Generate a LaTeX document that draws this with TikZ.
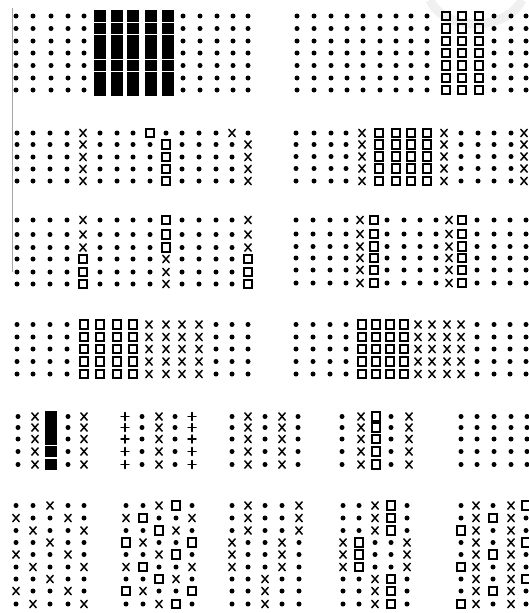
\documentclass[tikz,border=0pt]{standalone}
\usepackage{tikz}

% symbols of the dot patterns, centred at (#1,#2)
\newcommand{\symd}[2]{\fill (#1,#2) circle (2.5pt);}
\newcommand{\symx}[2]{\draw[mk] (#1,#2) ++(-3.2pt,-3.7pt) -- ++(6.4pt,7.4pt) (#1,#2) ++(-3.2pt,3.7pt) -- ++(6.4pt,-7.4pt);}
\newcommand{\syms}[2]{\draw[mk,line width=1.8pt] (#1,#2) ++(-4.3pt,-4.3pt) rectangle ++(8.6pt,8.6pt);}
\newcommand{\symf}[2]{\fill (#1,#2) ++(-6.2pt,-5.6pt) rectangle ++(12.4pt,11.2pt);}
\newcommand{\symp}[2]{\draw[mk] (#1,#2) ++(-4pt,0) -- ++(8pt,0) (#1,#2) ++(0,-4pt) -- ++(0,8pt);}
% one row: column array, y, symbols
\newcommand{\prow}[3]{%
  \foreach \s [count=\i from 0] in {#3}{%
    \pgfmathsetmacro{\xx}{{#1}[\i]}%
    \csname sym\s\endcsname{\xx}{#2}}}

\begin{document}
\begin{tikzpicture}[x=1pt, y=-1pt, mk/.style={line width=1.5pt, line cap=round}]
  \useasboundingbox[fill=white] (0,0) rectangle (528,613);
  % scan edge and watermark
  \draw[gray!70, line width=0.8pt] (12,8) -- (12,272);
  \draw[gray!12, line width=9pt] (430,0) .. controls (445,32) and (505,32) .. (522,0);

  % row 1
  \foreach \y in {16,28.5,41,53,65.5,78,90}
    \prow{16,33,51,68,84,100,117,133,151,168,183,200,217,233,248}{\y}{d,d,d,d,d,f,f,f,f,f,d,d,d,d,d};
  \foreach \y in {16,28.5,41,53,65.5,78,90}
    \prow{297,314,331,347,363,380,396,411,427,446,462,479,494,511,526}{\y}{d,d,d,d,d,d,d,d,d,s,s,s,d,d,d};

  % row 2
  \prow{17,33,50,67,83,100,117,133,150,166,182,199,216,232,248}{133}{d,d,d,d,x,d,d,d,s,d,d,d,d,x,d};
  \foreach \y in {144.5,157,169,181}
    \prow{17,33,50,67,83,100,117,133,150,166,182,199,216,232,248}{\y}{d,d,d,d,x,d,d,d,d,s,d,d,d,d,x};
  \foreach \y in {133,144.5,156.5,168.5,181}
    \prow{296,314,331,346,362,379,396,411,427,444,461,478,494,511,524}{\y}{d,d,d,d,x,s,s,s,s,x,d,d,d,d,x};

  % row 3
  \foreach \y in {220,234.5,247.5}
    \prow{17,33,50,67,83,100,117,133,150,166,182,199,216,232,248}{\y}{d,d,d,d,x,d,d,d,d,s,d,d,d,d,x};
  \foreach \y in {259,272,284}
    \prow{17,33,50,67,83,100,117,133,150,166,182,199,216,232,248}{\y}{d,d,d,d,s,d,d,d,d,x,d,d,d,d,s};
  \foreach \y in {220,234,246.5,258,270,283}
    \prow{296,313,330,346,360,374,387,404,420,436,449,462,477,494,510,526}{\y}{d,d,d,d,x,s,d,d,d,d,x,s,d,d,d,d};

  % row 4
  \foreach \y in {324.5,337,349,361.5,374}
    \prow{17,33,50,67,84,100,117,133,149,166,182,199,216,232,248}{\y}{d,d,d,d,s,s,s,s,x,x,x,x,d,d,d};
  \foreach \y in {324.5,337,349,361.5,374}
    \prow{296,313,330,346,362,376,390,404,418,432,447,461,477,494,510,526}{\y}{d,d,d,d,s,s,s,s,x,x,x,x,d,d,d,d};

  % row 5
  \foreach \y in {416.5,427.5,439,451.5,464.5}{
    \prow{18,35,51,68,84}{\y}{d,x,f,d,x}
    \prow{125,142,159,175,192}{\y}{p,d,x,d,p}
    \prow{232,248,265,282,298}{\y}{d,x,d,x,d}
    \prow{342,361,376,391,409}{\y}{d,x,s,d,x}
    \prow{461,477,494,511,527}{\y}{d,d,d,d,d}
  }

  % row 6
  \foreach \a/\b/\c in {505.5/518/530.5, 542.5/554.5/567, 579/591/604}{
    \prow{16,33,50,68,84}{\a}{d,d,x,d,d}
    \prow{16,33,50,68,84}{\b}{x,d,d,x,d}
    \prow{16,33,50,68,84}{\c}{d,x,d,d,x}
    \prow{461,476,493,511,526}{\a}{d,x,d,x,s}
    \prow{461,476,493,511,526}{\b}{d,x,s,x,d}
    \prow{461,476,493,511,526}{\c}{s,x,d,x,d}
  }
  \foreach \y in {505.5,554.5,604}
    \prow{126,143,159,176,192}{\y}{d,d,x,s,d};
  \foreach \y in {518,567}
    \prow{126,143,159,176,192}{\y}{x,s,d,d,x};
  \foreach \y in {530.5,579}
    \prow{126,143,159,176,192}{\y}{d,d,s,x,d};
  \foreach \y in {542.5,591}
    \prow{126,143,159,176,192}{\y}{s,x,d,d,s};
  \foreach \y in {505.5,518,530.5}{
    \prow{232,248,265,282,299}{\y}{d,x,d,d,x}
    \prow{343,359,375,391,407}{\y}{d,d,x,s,d}
  }
  \foreach \y in {542.5,554.5,567}{
    \prow{232,248,265,282,299}{\y}{x,d,d,x,d}
    \prow{343,359,375,391,407}{\y}{x,s,d,d,x}
  }
  \foreach \y in {579,591,604}{
    \prow{232,248,265,282,299}{\y}{d,d,x,d,d}
    \prow{343,359,375,391,407}{\y}{d,d,x,s,d}
  }
\end{tikzpicture}
\end{document}
